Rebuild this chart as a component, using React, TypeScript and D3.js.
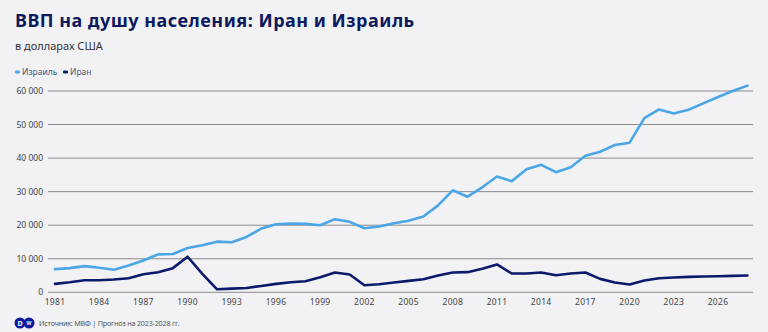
import React from "react";
import * as d3 from "d3";

const years: number[] = d3.range(1981, 2029);
const israel: number[] = [
  6900, 7200, 7800, 7300, 6700, 8000, 9500, 11300, 11400, 13200,
  14000, 15100, 14900, 16500, 19000, 20300, 20500, 20400, 20000, 21800,
  21000, 19100, 19600, 20600, 21300, 22600, 25900, 30400, 28500, 31300,
  34500, 33100, 36700, 38000, 35800, 37300, 40700, 41900, 43900, 44600,
  51900, 54500, 53300, 54400, 56300, 58200, 60000, 61600,
];
const iran: number[] = [
  2500, 3000, 3600, 3600, 3800, 4200, 5400, 6000, 7200, 10600,
  5500, 900, 1100, 1300, 1900, 2500, 3000, 3300, 4500, 5900,
  5300, 2100, 2400, 2900, 3400, 3900, 5000, 5900, 6000, 7000,
  8300, 5600, 5600, 5900, 5100, 5600, 5900, 4000, 2900, 2300,
  3500, 4200, 4400, 4600, 4700, 4800, 4900, 5000,
];
const yTicks: number[] = [0, 10000, 20000, 30000, 40000, 50000, 60000];
const xTicks: number[] = [1981, 1984, 1987, 1990, 1993, 1996, 1999, 2002, 2005, 2008, 2011, 2014, 2017, 2020, 2023, 2026];
const title = "ВВП на душу населения: Иран и Израиль";
const subtitle = "в долларах США";
const source = "Источник: МВФ | Прогноз на 2023-2028 гг.";
const seriesNames = ["Израиль", "Иран"];

const W = 768;
const H = 332;
const ISRAEL_COLOR = "#4aa6e6";
const IRAN_COLOR = "#0c1a6b";
const FONT = "'Noto Sans', 'Open Sans', sans-serif";

const fmt = (v: number) => (v === 0 ? "0" : d3.format(",")(v).replace(/,/g, " "));

export default function App() {
  const x = d3.scaleLinear().domain([1981, 2026]).range([55, 718]);
  const y = d3.scaleLinear().domain([0, 60000]).range([292.3, 91]);
  const line = d3
    .line<number>()
    .x((_, i) => x(years[i]))
    .y((d) => y(d))
    .curve(d3.curveLinear);

  return (
    <svg
      width={W}
      height={H}
      style={{ position: "absolute", left: 0, top: 0, display: "block" }}
      fontFamily={FONT}
    >
      <rect x={0} y={0} width={W} height={H} fill="#f2f1f3" />
      <text x={15} y={27} fontSize={18} fontWeight={700} fill="#0c1a5e" fontFamily={FONT} letterSpacing={0.5}>
        {title}
      </text>
      <text x={15} y={50} fontSize={11} fill="#333" fontFamily={FONT}>
        {subtitle}
      </text>
      {/* legend */}
      <g fontSize={8.5} fill="#4a5a7a">
        <rect x={15} y={70.5} width={5} height={3} rx={1.2} fill={ISRAEL_COLOR} />
        <text x={22} y={75}>{seriesNames[0]}</text>
        <rect x={63} y={70.5} width={5} height={3} rx={1.2} fill={IRAN_COLOR} />
        <text x={70} y={75}>{seriesNames[1]}</text>
      </g>
      {/* grid */}
      {yTicks.map((t) => (
        <g key={t}>
          <line x1={48} x2={753} y1={y(t)} y2={y(t)} stroke="#8a8a8c" strokeWidth={1} />
          <text x={43} y={y(t) + 3} textAnchor="end" fontSize={8.5} fill="#444">
            {fmt(t)}
          </text>
        </g>
      ))}
      {xTicks.map((t) => (
        <text key={t} x={x(t)} y={305} textAnchor="middle" fontSize={8.5} fill="#444" letterSpacing={0.3}>
          {t}
        </text>
      ))}
      <path d={line(israel) || ""} fill="none" stroke={ISRAEL_COLOR} strokeWidth={2.6} strokeLinejoin="round" strokeLinecap="round" />
      <path d={line(iran) || ""} fill="none" stroke={IRAN_COLOR} strokeWidth={2.6} strokeLinejoin="round" strokeLinecap="round" />
      {/* footer */}
      <g>
        <circle cx={20} cy={323} r={5.5} fill="#0c1a9e" />
        <circle cx={29} cy={323} r={5.5} fill="#0c1a9e" />
        <text x={20} y={325.5} fontSize={7} fill="#fff" textAnchor="middle" fontWeight={700}>D</text>
        <text x={29} y={325} fontSize={5} fill="#fff" textAnchor="middle" fontWeight={700}>W</text>
      </g>
      <text x={39} y={326} fontSize={7.2} fill="#555" fontFamily={FONT} letterSpacing={-0.2}>
        {source}
      </text>
    </svg>
  );
}
